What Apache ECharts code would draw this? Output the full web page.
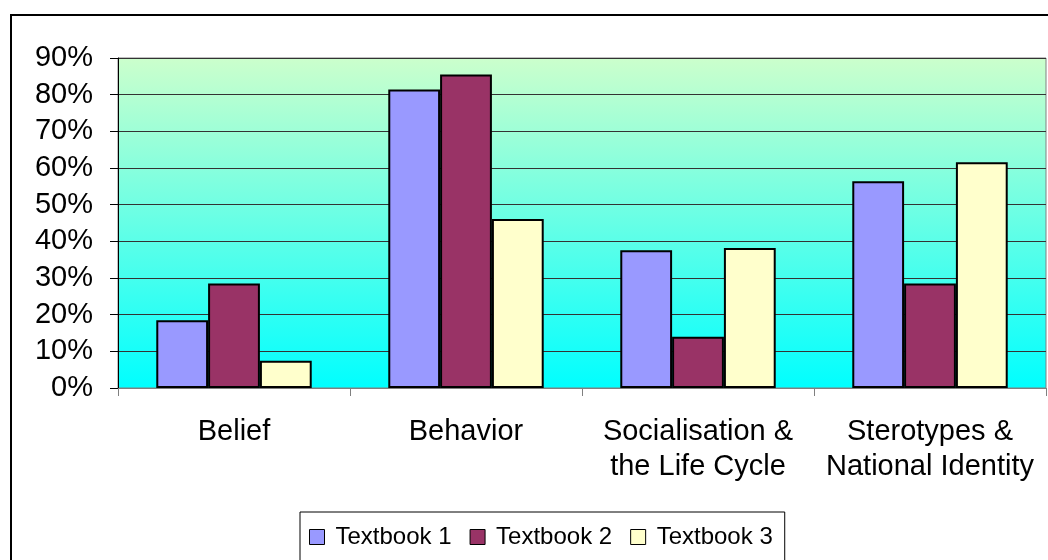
<!DOCTYPE html>
<html><head><meta charset="utf-8">
<script src="https://cdn.jsdelivr.net/npm/echarts@6/dist/echarts.min.js"></script>
<style>html,body{margin:0;padding:0;background:#fff}#c{width:1048px;height:560px}</style>
</head><body><div id="c"></div>
<script>
const categories = ['Belief', 'Behavior', 'Socialisation &\nthe Life Cycle', 'Sterotypes &\nNational Identity'];
const textbook1 = [0.185, 0.814, 0.376, 0.564];
const textbook2 = [0.285, 0.855, 0.14, 0.285];
const textbook3 = [0.074, 0.461, 0.382, 0.616];
const seriesNames = ['Textbook 1', 'Textbook 2', 'Textbook 3'];
const seriesColors = ['#9999FF', '#993366', '#FFFFCC'];
const FONT = "'Liberation Sans', Arial, sans-serif";

const chart = echarts.init(document.getElementById('c'), null, {renderer: 'canvas'});
const dataSets = [textbook1, textbook2, textbook3];
chart.setOption({
  animation: false,
  textStyle: {fontFamily: FONT},
  graphic: [{
    type: 'rect', shape: {x: 11, y: 15, width: 1060, height: 580}, silent: true, z: -10,
    style: {fill: 'none', stroke: '#000', lineWidth: 2}
  }],
  grid: {
    left: 118, right: 2, top: 58, bottom: 172, show: true,
    backgroundColor: {type: 'linear', x: 0, y: 0, x2: 0, y2: 1,
      colorStops: [{offset: 0, color: '#CCFFCC'}, {offset: 1, color: '#00FFFF'}]},
    borderColor: '#808080', borderWidth: 1
  },
  legend: {
    left: 300, top: 512,
    padding: [13, 12, 12, 9],
    borderColor: '#000', borderWidth: 1, backgroundColor: '#fff',
    itemWidth: 15, itemHeight: 15, itemGap: 18, icon: 'rect',
    itemStyle: {borderColor: '#000', borderWidth: 1},
    textStyle: {fontSize: 24, color: '#000', fontFamily: FONT, padding: [0, 0, 0, 6]},
    data: seriesNames
  },
  xAxis: {
    type: 'category', data: categories,
    axisLine: {lineStyle: {color: '#808080', width: 1}},
    axisTick: {show: true, length: 8, alignWithLabel: false, lineStyle: {color: '#808080'}},
    axisLabel: {fontSize: 29, color: '#000', margin: 26, lineHeight: 35, fontFamily: FONT, interval: 0}
  },
  yAxis: {
    type: 'value', min: 0, max: 0.9, interval: 0.1,
    axisLine: {show: true, lineStyle: {color: '#000', width: 1}},
    axisTick: {show: true, length: 8, lineStyle: {color: '#000'}},
    splitLine: {lineStyle: {color: '#333', width: 1}},
    axisLabel: {fontSize: 29, color: '#000', margin: 25, fontFamily: FONT,
      formatter: v => Math.round(v * 100) + '%'}
  },
  series: dataSets.map((d, i) => ({
    name: seriesNames[i], type: 'bar', data: d,
    barGap: '0%', barCategoryGap: '33%',
    itemStyle: {color: seriesColors[i], borderColor: '#000', borderWidth: 2}
  }))
});
</script></body></html>
